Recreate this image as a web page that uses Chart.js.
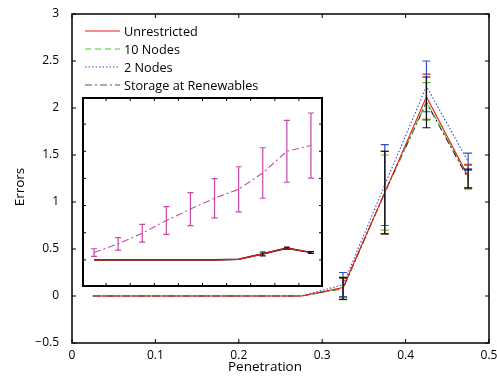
<!DOCTYPE html>
<html lang="en">
<head>
    <meta charset="UTF-8">
    <title>Errors vs Penetration</title>
    <script src="https://cdn.jsdelivr.net/npm/chart.js"></script>
    <style>
        body { margin: 0; padding: 0; background: #fff; }
        .wrap { position: relative; width: 497px; height: 378px; }
        #mainChart { position: absolute; left: 0; top: 0; }
        #insetChart { position: absolute; left: 82px; top: 97px; background: #fff; }
    </style>
</head>
<body>
<div class="wrap">
    <canvas id="mainChart" width="497" height="378"></canvas>
    <canvas id="insetChart" width="241" height="190"></canvas>
</div>
<script>
// main plot data
const penetration = [0.025, 0.075, 0.125, 0.175, 0.225, 0.275, 0.325, 0.375, 0.425, 0.475];
const unrestricted    = [0, 0, 0, 0, 0, 0, 0.09, 1.10, 2.12, 1.27];
const unrestrictedErr = [0, 0, 0, 0, 0, 0, 0.10, 0.44, 0.24, 0.13];
const tenNodes        = [0, 0, 0, 0, 0, 0, 0.08, 1.10, 2.07, 1.27];
const tenNodesErr     = [0, 0, 0, 0, 0, 0, 0.12, 0.40, 0.20, 0.12];
const twoNodes        = [0, 0, 0, 0, 0, 0, 0.12, 1.18, 2.23, 1.43];
const twoNodesErr     = [0, 0, 0, 0, 0, 0, 0.13, 0.43, 0.27, 0.09];
const storage         = [0, 0, 0, 0, 0, 0, 0.08, 1.10, 2.06, 1.25];
const storageErr      = [0, 0, 0, 0, 0, 0, 0.115, 0.44, 0.27, 0.10];
const yTicks = [-0.5, 0, 0.5, 1, 1.5, 2, 2.5, 3];
const xTicks = [0, 0.1, 0.2, 0.3, 0.4, 0.5];

// inset data
const insetX = [0.5, 1.5, 2.5, 3.5, 4.5, 5.5, 6.5, 7.5, 8.5, 9.5];
const insetMagenta    = [1.27, 1.59, 1.98, 2.45, 2.87, 3.27, 3.60, 4.20, 5.00, 5.21];
const insetMagentaErr = [0.14, 0.23, 0.33, 0.51, 0.61, 0.72, 0.83, 0.93, 1.14, 1.20];
const insetBlack      = [1, 1, 1, 1, 1, 1, 1.02, 1.22, 1.43, 1.27];
const insetBlackErr   = [0, 0, 0, 0, 0, 0, 0, 0.07, 0.04, 0.03];

const FONT = "'Open Sans', 'DejaVu Sans', sans-serif";

function pts(xs, ys) { return xs.map((x, i) => ({ x: x, y: ys[i] })); }

// error bars + ticks + frame drawn with the chart's own scales
const errorBars = {
    id: 'errorBars',
    afterDatasetsDraw(chart) {
        const ctx = chart.ctx;
        const xs = chart.scales.x, ys = chart.scales.y;
        const cap = chart.options.plugins.errorBars.cap;
        chart.data.datasets.forEach(ds => {
            if (!ds.errors) return;
            ctx.save();
            ctx.strokeStyle = ds.errColor || ds.borderColor;
            ctx.lineWidth = 1.2;
            ds.data.forEach((p, i) => {
                const e = ds.errors[i];
                if (!e) return;
                const px = xs.getPixelForValue(p.x);
                const top = ys.getPixelForValue(p.y + e);
                const bot = ys.getPixelForValue(p.y - e);
                ctx.beginPath();
                ctx.moveTo(px, top); ctx.lineTo(px, bot);
                ctx.moveTo(px - cap, top); ctx.lineTo(px + cap, top);
                ctx.moveTo(px - cap, bot); ctx.lineTo(px + cap, bot);
                ctx.stroke();
            });
            ctx.restore();
        });
    },
    afterDraw(chart) {
        const ctx = chart.ctx;
        const a = chart.chartArea;
        const o = chart.options.plugins.errorBars;
        ctx.save();
        ctx.strokeStyle = '#000';
        ctx.lineWidth = 1;
        const t = o.tick;
        o.xTickVals.forEach(v => {
            const px = chart.scales.x.getPixelForValue(v);
            ctx.beginPath();
            ctx.moveTo(px, a.bottom); ctx.lineTo(px, a.bottom - t);
            ctx.moveTo(px, a.top); ctx.lineTo(px, a.top + t);
            ctx.stroke();
        });
        o.yTickVals.forEach(v => {
            const py = chart.scales.y.getPixelForValue(v);
            ctx.beginPath();
            ctx.moveTo(a.left, py); ctx.lineTo(a.left + t, py);
            ctx.moveTo(a.right, py); ctx.lineTo(a.right - t, py);
            ctx.stroke();
        });
        ctx.lineWidth = o.frame;
        const h = o.frame / 2;
        ctx.strokeRect(a.left + (o.inner ? h : 0), a.top + (o.inner ? h : 0),
            a.right - a.left - (o.inner ? o.frame : 0), a.bottom - a.top - (o.inner ? o.frame : 0));
        ctx.restore();
    }
};

// legend and axis titles for the main plot
const mainText = {
    id: 'mainText',
    afterDraw(chart) {
        const ctx = chart.ctx;
        ctx.save();
        ctx.fillStyle = '#000';
        ctx.font = '13.5px ' + FONT;
        ctx.textAlign = 'center';
        ctx.textBaseline = 'middle';
        ctx.fillText('Penetration', 265, 367);
        ctx.translate(20, 187);
        ctx.rotate(-Math.PI / 2);
        ctx.fillText('Errors', 0, 0);
        ctx.restore();

        ctx.save();
        ctx.font = '12.7px ' + FONT;
        ctx.textBaseline = 'middle';
        ctx.textAlign = 'left';
        chart.data.datasets.forEach((ds, i) => {
            const y = 31 + i * 18;
            ctx.strokeStyle = ds.legendColor || ds.borderColor;
            ctx.lineWidth = 1.2;
            ctx.setLineDash(ds.borderDash || []);
            ctx.beginPath();
            ctx.moveTo(85, y); ctx.lineTo(120, y);
            ctx.stroke();
            ctx.setLineDash([]);
            ctx.fillStyle = '#000';
            ctx.fillText(ds.label, 124, y + 1);
        });
        ctx.restore();
    }
};

new Chart(document.getElementById('mainChart'), {
    type: 'line',
    data: {
        datasets: [
            { label: 'Unrestricted', data: pts(penetration, unrestricted), errors: unrestrictedErr,
              borderColor: '#f01818', borderWidth: 1.1, pointRadius: 0 },
            { label: '10 Nodes', data: pts(penetration, tenNodes), errors: tenNodesErr,
              borderColor: '#44cc22', borderWidth: 1.1, borderDash: [6, 4], pointRadius: 0 },
            { label: '2 Nodes', data: pts(penetration, twoNodes), errors: twoNodesErr,
              borderColor: '#3050c8', borderWidth: 1.1, borderDash: [1.5, 2], pointRadius: 0 },
            { label: 'Storage at Renewables', data: pts(penetration, storage), errors: storageErr,
              borderColor: '#111', legendColor: '#555', borderWidth: 1.1, borderDash: [7, 3, 2, 3], pointRadius: 0 }
        ]
    },
    options: {
        responsive: false,
        animation: false,
        layout: { padding: { left: 0, right: 8, top: 14, bottom: 0 } },
        plugins: {
            legend: { display: false },
            tooltip: { enabled: false },
            errorBars: { cap: 4, tick: 4, frame: 1.5, inner: false, xTickVals: xTicks, yTickVals: yTicks }
        },
        scales: {
            x: {
                type: 'linear', min: 0, max: 0.5,
                afterFit: s => { s.height = 35; },
                afterBuildTicks: s => { s.ticks = xTicks.map(v => ({ value: v })); },
                grid: { display: false },
                border: { display: false },
                ticks: { color: '#000', padding: -3, maxRotation: 0,
                         font: { family: FONT, size: 12 },
                         callback: v => String(Math.round(v * 10) / 10) }
            },
            y: {
                min: -0.5, max: 3,
                afterFit: s => { s.width = 72; },
                afterBuildTicks: s => { s.ticks = yTicks.map(v => ({ value: v })); },
                grid: { display: false },
                border: { display: false },
                ticks: { color: '#000', padding: 5,
                         font: { family: FONT, size: 12 },
                         callback: v => v < 0 ? '\u2212' + Math.abs(v) : String(v) }
            }
        }
    },
    plugins: [errorBars, mainText]
});

new Chart(document.getElementById('insetChart'), {
    type: 'line',
    data: {
        datasets: [
            { label: 'magenta', data: pts(insetX, insetMagenta), errors: insetMagentaErr,
              borderColor: '#c848a8', borderWidth: 1.1, borderDash: [7, 3, 2, 3], pointRadius: 0 },
            { label: 'red', data: pts(insetX, insetBlack),
              borderColor: '#e02020', borderWidth: 1.2, pointRadius: 0 },
            { label: 'black', data: pts(insetX, insetBlack), errors: insetBlackErr,
              borderColor: '#111', borderWidth: 1.6, pointRadius: 0 }
        ]
    },
    options: {
        responsive: false,
        animation: false,
        layout: { padding: 0 },
        plugins: {
            legend: { display: false },
            tooltip: { enabled: false },
            errorBars: { cap: 3, tick: 4, frame: 2, inner: true,
                         xTickVals: [1, 2, 3, 4, 5, 6, 7, 8, 9], yTickVals: [1, 2, 3, 4, 5, 6] }
        },
        scales: {
            x: { type: 'linear', min: 0, max: 10, display: false },
            y: { min: 0, max: 7, display: false }
        }
    },
    plugins: [errorBars]
});
</script>
</body>
</html>
